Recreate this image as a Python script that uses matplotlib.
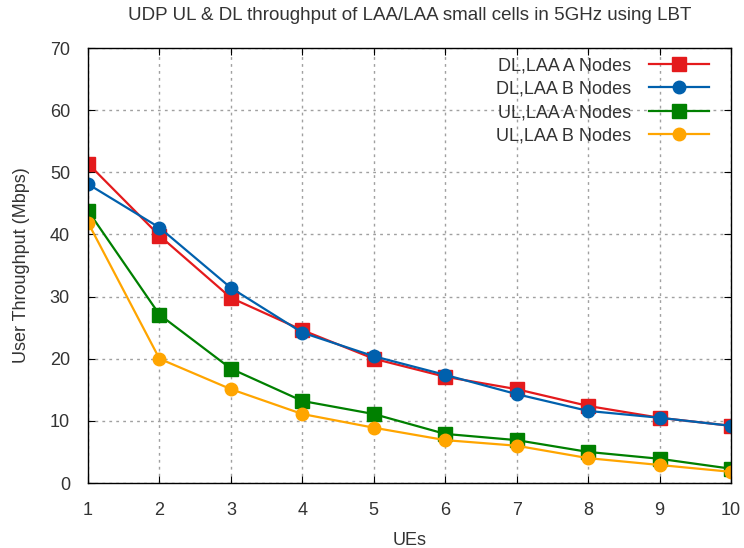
import matplotlib
matplotlib.use('Agg')
import matplotlib.pyplot as plt

plt.rcParams['font.family'] = ['Liberation Sans', 'DejaVu Sans']
plt.rcParams['text.color'] = '#333333'
plt.rcParams['axes.labelcolor'] = '#333333'
plt.rcParams['xtick.labelcolor'] = '#333333'
plt.rcParams['ytick.labelcolor'] = '#333333'

# data
ues = [1, 2, 3, 4, 5, 6, 7, 8, 9, 10]
dl_laa_a = [51.4, 39.8, 29.8, 24.6, 20.0, 17.1, 15.1, 12.4, 10.5, 9.2]
dl_laa_b = [48.1, 41.1, 31.4, 24.2, 20.4, 17.4, 14.3, 11.6, 10.5, 9.2]
ul_laa_a = [43.8, 27.1, 18.4, 13.2, 11.1, 7.9, 6.9, 5.0, 3.9, 2.3]
ul_laa_b = [41.9, 20.0, 15.1, 11.1, 8.9, 6.9, 6.0, 4.0, 2.9, 1.8]

fig = plt.figure(figsize=(7.44, 5.48), dpi=100)
ax = fig.add_axes([0.1183, 0.1186, 0.8642, 0.7938])

ax.plot(ues, dl_laa_a, color='#e41a1c', marker='s', markersize=10, lw=1.6, label='DL,LAA A Nodes')
ax.plot(ues, dl_laa_b, color='#0060ad', marker='o', markersize=9, lw=1.6, label='DL,LAA B Nodes')
ax.plot(ues, ul_laa_a, color='#008000', marker='s', markersize=10, lw=1.6, label='UL,LAA A Nodes')
ax.plot(ues, ul_laa_b, color='#ffa500', marker='o', markersize=9, lw=1.6, label='UL,LAA B Nodes')

ax.set_xlim(1, 10)
ax.set_ylim(0, 70)
ax.set_xticks(ues)
ax.set_yticks(range(0, 71, 10))
ax.grid(True, color='#a0a0a0', linestyle=(0, (2, 3)), lw=1)
ax.tick_params(direction='in', top=True, right=True, labelsize=13, length=5)
ax.tick_params(axis='x', pad=14)
ax.tick_params(axis='y', pad=13)
for s in ax.spines.values():
    s.set_linewidth(1)

ax.set_xlabel('UEs', fontsize=13, labelpad=9)
ax.set_ylabel('User Throughput (Mbps)', fontsize=13, labelpad=14)
ax.set_title('UDP UL & DL throughput of LAA/LAA small cells in 5GHz using LBT', fontsize=13.5, pad=20)

ax.legend(loc='upper right', frameon=False, markerfirst=False, fontsize=13,
          handlelength=3.3, labelspacing=0.35, borderaxespad=0.0, handletextpad=1.0,
          bbox_to_anchor=(0.977, 0.995))

fig.savefig('out.png', dpi=100)
